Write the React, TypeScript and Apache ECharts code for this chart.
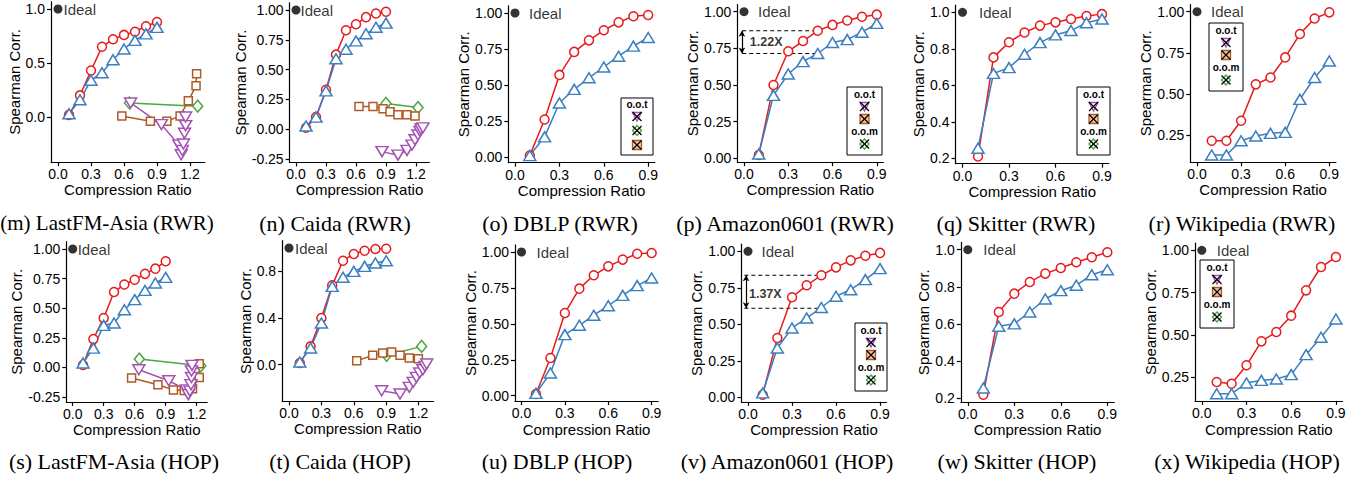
import React, { useEffect, useRef } from "react";
import * as echarts from "echarts";

const RED = "#e8191c";
const BLUE = "#3a7fc0";
const GREEN = "#4aa644";
const BROWN = "#b05a25";
const PURPLE = "#a552b5";

const SANS = "'Liberation Sans', Arial, Helvetica, sans-serif";
const SERIF = "'Liberation Serif', 'Times New Roman', Times, serif";

type Pt = [number, number];

const ratios = [0.1, 0.2, 0.3, 0.4, 0.5, 0.6, 0.7, 0.8, 0.9];

// (m) LastFM-Asia (RWR)
const mRed = [0.02, 0.2, 0.43, 0.65, 0.72, 0.76, 0.79, 0.84, 0.88];
const mBlue = [0.03, 0.16, 0.34, 0.41, 0.53, 0.63, 0.71, 0.77, 0.83];
const mGreen: Pt[] = [[0.65, 0.13], [1.27, 0.1]];
const mBrown: Pt[] = [[0.58, 0.01], [0.84, -0.04], [0.99, -0.04], [1.11, 0.01], [1.185, 0.15], [1.255, 0.29], [1.26, 0.4]];
const mPurple: Pt[] = [[0.66, 0.13], [0.94, -0.07], [1.1, -0.26], [1.12, -0.35], [1.13, -0.31], [1.14, -0.25], [1.15, -0.15], [1.16, -0.08], [1.16, 0.0]];

// (n) Caida (RWR)
const nRed = [0.01, 0.1, 0.33, 0.625, 0.83, 0.88, 0.94, 0.97, 0.985];
const nBlue = [0.025, 0.1, 0.32, 0.59, 0.67, 0.74, 0.8, 0.855, 0.89];
const nGreen: Pt[] = [[0.9, 0.215], [1.22, 0.18]];
const nBrown: Pt[] = [[0.63, 0.19], [0.77, 0.19], [0.87, 0.17], [0.94, 0.145], [1.02, 0.12], [1.11, 0.12], [1.19, 0.11]];
const nPurple: Pt[] = [[0.86, -0.19], [1.02, -0.22], [1.11, -0.18], [1.16, -0.135], [1.19, -0.09], [1.22, -0.05], [1.24, -0.02], [1.25, 0.0], [1.27, 0.01]];

// (o) DBLP (RWR)
const oRed = [0.01, 0.26, 0.57, 0.73, 0.81, 0.88, 0.935, 0.977, 0.986];
const oBlue = [0.01, 0.14, 0.375, 0.47, 0.55, 0.625, 0.7, 0.77, 0.83];

// (p) Amazon0601 (RWR)
const pRed = [0.023, 0.5, 0.73, 0.8, 0.87, 0.91, 0.94, 0.966, 0.98];
const pBlue = [0.03, 0.43, 0.575, 0.66, 0.715, 0.79, 0.81, 0.86, 0.92];

// (q) Skitter (RWR)
const qRed = [0.21, 0.753, 0.836, 0.889, 0.927, 0.945, 0.963, 0.98, 0.99];
const qBlue = [0.255, 0.665, 0.697, 0.77, 0.834, 0.876, 0.9, 0.943, 0.963];

// (r) Wikipedia (RWR)
const rRed = [0.215, 0.215, 0.337, 0.558, 0.6, 0.722, 0.864, 0.959, 0.996];
const rBlue = [0.128, 0.128, 0.215, 0.244, 0.26, 0.266, 0.467, 0.6, 0.7];

// (s) LastFM-Asia (HOP)
const sRed = [0.02, 0.24, 0.417, 0.637, 0.7, 0.74, 0.79, 0.834, 0.896];
const sBlue = [0.037, 0.163, 0.355, 0.375, 0.487, 0.572, 0.65, 0.713, 0.76];
const sGreen: Pt[] = [[0.645, 0.07], [1.24, 0.014]];
const sBrown: Pt[] = [[0.57, -0.09], [0.825, -0.146], [0.975, -0.19], [1.08, -0.195], [1.16, -0.18], [1.225, -0.085], [1.225, 0.03]];
const sPurple: Pt[] = [[0.64, -0.02], [0.93, -0.113], [1.1, -0.19], [1.12, -0.23], [1.135, -0.2], [1.145, -0.146], [1.15, -0.085], [1.15, -0.03], [1.155, 0.017]];

// (t) Caida (HOP)
const tRed = [0.014, 0.157, 0.4, 0.68, 0.891, 0.949, 0.977, 0.991, 0.994];
const tBlue = [0.023, 0.143, 0.357, 0.671, 0.749, 0.8, 0.843, 0.871, 0.891];
const tGreen: Pt[] = [[0.904, 0.08], [1.228, 0.157]];
const tBrown: Pt[] = [[0.627, 0.034], [0.775, 0.08], [0.867, 0.1], [0.95, 0.109], [1.028, 0.08], [1.114, 0.057], [1.198, 0.051]];
const tPurple: Pt[] = [[0.858, -0.223], [1.028, -0.251], [1.114, -0.194], [1.15, -0.151], [1.18, -0.109], [1.21, -0.071], [1.24, -0.043], [1.26, -0.014], [1.275, 0.006]];

// (u) DBLP (HOP)
const uRed = [0.012, 0.262, 0.575, 0.745, 0.838, 0.9, 0.947, 0.988, 0.993];
const uBlue = [0.016, 0.158, 0.425, 0.49, 0.56, 0.626, 0.698, 0.766, 0.819];

// (v) Amazon0601 (HOP)
const vRed = [0.018, 0.406, 0.685, 0.767, 0.836, 0.89, 0.938, 0.97, 0.989];
const vBlue = [0.03, 0.338, 0.475, 0.543, 0.615, 0.692, 0.737, 0.806, 0.881];

// (w) Skitter (HOP)
const wRed = [0.218, 0.664, 0.763, 0.826, 0.871, 0.901, 0.932, 0.959, 0.986];
const wBlue = [0.254, 0.587, 0.6, 0.664, 0.734, 0.779, 0.808, 0.865, 0.892];

// (x) Wikipedia (HOP)
const xRed = [0.22, 0.21, 0.319, 0.461, 0.516, 0.613, 0.763, 0.901, 0.96];
const xBlue = [0.151, 0.151, 0.214, 0.23, 0.238, 0.264, 0.382, 0.485, 0.593];

// tick labels
const xTicksWide = [0, 0.3, 0.6, 0.9, 1.2];
const xTicksNarrow = [0, 0.3, 0.6, 0.9];
const yTicksHalf = [0, 0.5, 1.0];
const yTicksQuarterNeg = [-0.25, 0, 0.25, 0.5, 0.75, 1.0];
const yTicksQuarter = [0, 0.25, 0.5, 0.75, 1.0];
const yTicksQuarterHigh = [0.25, 0.5, 0.75, 1.0];
const yTicksFifth = [0.2, 0.4, 0.6, 0.8, 1.0];
const yTicksCaida = [0, 0.4, 0.8];

interface Ann { top: number; bottom: number; xs: number; xe: number; ax: number; label: string; lx: number; ly: number; }
interface Panel {
  caption: string; capX: number; capY: number; capSize?: number;
  red: number[]; blue: number[]; green?: Pt[]; brown?: Pt[]; purple?: Pt[];
  x0: number; kx: number; py1: number; ky: number;
  xTicks: number[]; yTicks: number[]; yDec: number;
  idealGap: number; yNameGap: number; nameY: number;
  legend?: { x: number; y: number; w: number; kind: "A" | "B" };
  ann?: Ann;
}

const panels: Panel[] = [
  { caption: "(m) LastFM-Asia (RWR)", capX: 107, capY: 223, capSize: 21, red: mRed, blue: mBlue, green: mGreen, brown: mBrown, purple: mPurple,
    x0: 58, kx: 110, py1: 9, ky: 108, xTicks: xTicksWide, yTicks: yTicksHalf, yDec: 1, idealGap: 1, yNameGap: 28.5, nameY: 189 },
  { caption: "(n) Caida (RWR)", capX: 335, capY: 223, red: nRed, blue: nBlue, green: nGreen, brown: nBrown, purple: nPurple,
    x0: 296, kx: 100, py1: 10, ky: 119, xTicks: xTicksWide, yTicks: yTicksQuarterNeg, yDec: 2, idealGap: 0, yNameGap: 40, nameY: 189 },
  { caption: "(o) DBLP (RWR)", capX: 560, capY: 223, red: oRed, blue: oBlue,
    x0: 515, kx: 148, py1: 13, ky: 144, xTicks: xTicksNarrow, yTicks: yTicksQuarter, yDec: 2, idealGap: 9.5, yNameGap: 32.5, nameY: 189,
    legend: { x: 621, y: 98, w: 32, kind: "A" } },
  { caption: "(p) Amazon0601 (RWR)", capX: 785, capY: 223, red: pRed, blue: pBlue,
    x0: 744, kx: 147.5, py1: 11.7, ky: 146.7, xTicks: xTicksNarrow, yTicks: yTicksQuarter, yDec: 2, idealGap: 9.5, yNameGap: 36.5, nameY: 189,
    legend: { x: 847, y: 87, w: 35, kind: "B" },
    ann: { top: 0.87, bottom: 0.715, xs: -0.012, xe: 0.5, ax: -0.014, label: "1.22X", lx: 0.15, ly: 0.792 } },
  { caption: "(q) Skitter (RWR)", capX: 1016, capY: 223, red: qRed, blue: qBlue,
    x0: 962.5, kx: 155, py1: 12.3, ky: 182.5, xTicks: xTicksNarrow, yTicks: yTicksFifth, yDec: 1, idealGap: 12, yNameGap: 27.5, nameY: 189,
    legend: { x: 1077, y: 87, w: 33, kind: "B" } },
  { caption: "(r) Wikipedia (RWR)", capX: 1242, capY: 223, red: rRed, blue: rBlue,
    x0: 1197, kx: 147, py1: 11.7, ky: 164.4, xTicks: xTicksNarrow, yTicks: yTicksQuarterHigh, yDec: 2, idealGap: 9.5, yNameGap: 34.5, nameY: 189,
    legend: { x: 1209, y: 23, w: 34, kind: "B" } },
  { caption: "(s) LastFM-Asia (HOP)", capX: 114, capY: 461, red: sRed, blue: sBlue, green: sGreen, brown: sBrown, purple: sPurple,
    x0: 72.7, kx: 103.3, py1: 249, ky: 118.4, xTicks: xTicksWide, yTicks: yTicksQuarterNeg, yDec: 2, idealGap: 0.5, yNameGap: 38.5, nameY: 429 },
  { caption: "(t) Caida (HOP)", capX: 340, capY: 461, red: tRed, blue: tBlue, green: tGreen, brown: tBrown, purple: tPurple,
    x0: 289, kx: 108, py1: 248, ky: 116.7, xTicks: xTicksWide, yTicks: yTicksCaida, yDec: 1, idealGap: 1.5, yNameGap: 28, nameY: 429 },
  { caption: "(u) DBLP (HOP)", capX: 557, capY: 461, red: uRed, blue: uBlue,
    x0: 521.5, kx: 144.6, py1: 252, ky: 143.7, xTicks: xTicksNarrow, yTicks: yTicksQuarter, yDec: 2, idealGap: 10.5, yNameGap: 34, nameY: 430 },
  { caption: "(v) Amazon0601 (HOP)", capX: 787, capY: 461, red: vRed, blue: vBlue,
    x0: 748, kx: 146.7, py1: 251.3, ky: 146, xTicks: xTicksNarrow, yTicks: yTicksQuarter, yDec: 2, idealGap: 9, yNameGap: 34.5, nameY: 430,
    legend: { x: 855, y: 323, w: 32, kind: "B" },
    ann: { top: 0.836, bottom: 0.61, xs: -0.025, xe: 0.5, ax: -0.013, label: "1.37X", lx: 0.118, ly: 0.71 } },
  { caption: "(w) Skitter (HOP)", capX: 1017, capY: 461, red: wRed, blue: wBlue,
    x0: 967.8, kx: 155, py1: 249.7, ky: 185.4, xTicks: xTicksNarrow, yTicks: yTicksFifth, yDec: 1, idealGap: 11, yNameGap: 28.3, nameY: 429 },
  { caption: "(x) Wikipedia (HOP)", capX: 1247, capY: 461, red: xRed, blue: xBlue,
    x0: 1201.8, kx: 149, py1: 250.3, ky: 168.9, xTicks: xTicksNarrow, yTicks: yTicksQuarterHigh, yDec: 2, idealGap: 10.5, yNameGap: 32.5, nameY: 430,
    legend: { x: 1200, y: 260, w: 34, kind: "B" } },
];

function legendEls(x: number, y: number, w: number, kind: "A" | "B"): any[] {
  const h = kind === "A" ? 57 : 68;
  const cx = x + w / 2;
  const els: any[] = [
    { type: "rect", z: 100, shape: { x, y, width: w, height: h }, style: { fill: "#fff", stroke: "#000", lineWidth: 1 } },
  ];
  const title = (t: string, yy: number) => ({
    type: "text", z: 101, x: cx, y: yy,
    style: { text: t, fill: "#000", fontSize: 10, fontWeight: "bold", fontFamily: SANS, align: "center", verticalAlign: "middle" },
  });
  const cross = (cy: number) => [
    { type: "line", z: 102, shape: { x1: cx - 4.5, y1: cy - 4.5, x2: cx + 4.5, y2: cy + 4.5 }, style: { stroke: "#000", lineWidth: 1.3 } },
    { type: "line", z: 102, shape: { x1: cx + 4.5, y1: cy - 4.5, x2: cx - 4.5, y2: cy + 4.5 }, style: { stroke: "#000", lineWidth: 1.3 } },
  ];
  const purple = (cy: number) => [
    { type: "polygon", z: 101, shape: { points: [[cx - 4.5, cy - 4], [cx + 4.5, cy - 4], [cx, cy + 4.5]] }, style: { fill: "none", stroke: PURPLE, lineWidth: 1.4 } },
    ...cross(cy),
  ];
  const green = (cy: number) => [
    { type: "polygon", z: 101, shape: { points: [[cx, cy - 5], [cx + 4.5, cy], [cx, cy + 5], [cx - 4.5, cy]] }, style: { fill: "none", stroke: GREEN, lineWidth: 1.4 } },
    ...cross(cy),
  ];
  const brown = (cy: number) => [
    { type: "rect", z: 101, shape: { x: cx - 4.5, y: cy - 4.5, width: 9, height: 9 }, style: { fill: "#f0c8a8", stroke: BROWN, lineWidth: 1.3 } },
    ...cross(cy),
  ];
  if (kind === "A") {
    els.push(title("o.o.t", y + 6.5), ...purple(y + 18.5), ...green(y + 32.5), ...brown(y + 47));
  } else {
    els.push(title("o.o.t", y + 7), ...purple(y + 19.5), ...brown(y + 32), title("o.o.m", y + 44.5), ...green(y + 57));
  }
  return els;
}

function buildOption() {
  const grids: any[] = [];
  const xAxes: any[] = [];
  const yAxes: any[] = [];
  const series: any[] = [];
  const graphics: any[] = [];

  panels.forEach((p, i) => {
    const xs: number[] = [0, ...ratios];
    const ys: number[] = [1, ...p.red, ...p.blue];
    [p.green, p.brown, p.purple].forEach((arr) => {
      if (arr) arr.forEach(([a, b]) => { xs.push(a); ys.push(b); });
    });
    const xmin = Math.min(...xs), xmax = Math.max(...xs);
    const ymin = Math.min(...ys), ymax = Math.max(...ys);
    const xp = 0.05 * (xmax - xmin), yp = 0.05 * (ymax - ymin);
    const xlo = xmin - xp, xhi = xmax + xp, ylo = ymin - yp, yhi = ymax + yp;

    const left = p.x0 + xlo * p.kx;
    const width = (xhi - xlo) * p.kx;
    const top = p.py1 - (yhi - 1) * p.ky;
    const height = (yhi - ylo) * p.ky;
    grids.push({ left, top, width, height, containLabel: false });

    const axisCommon = {
      axisLine: { show: true, onZero: false, lineStyle: { color: "#000", width: 1.2 } },
      splitLine: { show: false },
    };
    xAxes.push({
      ...axisCommon, type: "value", gridIndex: i, min: xlo, max: xhi,
      axisTick: { show: true, inside: false, length: 4, customValues: p.xTicks, lineStyle: { color: "#000", width: 1.2 } },
      axisLabel: { customValues: p.xTicks, formatter: (v: number) => v.toFixed(1), margin: 5, fontSize: 14, color: "#000", fontFamily: SANS },
      name: "Compression Ratio", nameLocation: "middle", nameGap: p.nameY - (top + height) - 8,
      nameTextStyle: { fontSize: 15, color: "#000", fontFamily: SANS },
    });
    yAxes.push({
      ...axisCommon, type: "value", gridIndex: i, min: ylo, max: yhi,
      axisTick: { show: true, inside: false, length: 4, customValues: p.yTicks, lineStyle: { color: "#000", width: 1.2 } },
      axisLabel: { customValues: p.yTicks, formatter: (v: number) => v.toFixed(p.yDec), margin: 6, fontSize: 14, color: "#000", fontFamily: SANS },
      name: "Spearman Corr.", nameLocation: "middle", nameGap: p.yNameGap,
      nameTextStyle: { fontSize: 15, color: "#000", fontFamily: SANS },
    });

    const base = { xAxisIndex: i, yAxisIndex: i, silent: true, showSymbol: true, showAllSymbol: true, z: 3 };
    const mk = (data: Pt[], color: string, symbol: string, size: any, rotate = 0) => ({
      ...base, type: "line", data, symbol, symbolSize: size, symbolRotate: rotate,
      lineStyle: { color, width: 1.5 },
      itemStyle: { color: "#fff", borderColor: color, borderWidth: 1.5 },
    });
    if (p.green) series.push(mk(p.green, GREEN, "diamond", [10, 12]));
    if (p.brown) series.push(mk(p.brown, BROWN, "rect", 8));
    if (p.purple) series.push(mk(p.purple, PURPLE, "triangle", [12, 10], 180));
    series.push(mk(ratios.map((r, j) => [r, p.red[j]] as Pt), RED, "circle", 9));
    series.push(mk(ratios.map((r, j) => [r, p.blue[j]] as Pt), BLUE, "triangle", [12, 10]));

    series.push({
      ...base, type: "scatter", data: [[0, 1]], symbol: "circle", symbolSize: 9,
      itemStyle: { color: "#000" },
      label: { show: true, position: "right", distance: p.idealGap, formatter: "Ideal", fontSize: 15, color: "#000", fontFamily: SANS },
    });

    if (p.ann) {
      const a = p.ann;
      const dash = { color: "#000", width: 1.2, type: [4, 3] };
      series.push({ ...base, type: "line", data: [[a.xs, a.top], [a.xe, a.top]], symbol: "none", lineStyle: dash, z: 2 });
      series.push({
        ...base, type: "line", data: [[a.xs, a.bottom], [a.xe, a.bottom]], symbol: "none", lineStyle: dash, z: 2,
        markLine: {
          silent: true, symbol: ["arrow", "arrow"], symbolSize: [5, 6], label: { show: false },
          lineStyle: { color: "#000", width: 1.2, type: "solid" },
          data: [[{ coord: [a.ax, a.top] }, { coord: [a.ax, a.bottom] }]],
        },
      });
      series.push({
        ...base, type: "scatter", data: [[a.lx, a.ly]], symbolSize: 0,
        label: { show: true, position: "inside", formatter: a.label, fontSize: 12.5, fontWeight: "bold", color: "#000", fontFamily: SANS },
      });
    }

    graphics.push({
      type: "text", x: p.capX, y: p.capY,
      style: { text: p.caption, fill: "#000", fontSize: p.capSize || 22, fontFamily: SERIF, align: "center", verticalAlign: "middle" },
    });
    if (p.legend) graphics.push(...legendEls(p.legend.x, p.legend.y, p.legend.w, p.legend.kind));
  });

  return {
    animation: false,
    backgroundColor: "#fff",
    grid: grids,
    xAxis: xAxes,
    yAxis: yAxes,
    series,
    graphic: graphics,
  };
}

export default function App() {
  const ref = useRef<HTMLDivElement>(null);
  useEffect(() => {
    const chart = echarts.init(ref.current as HTMLDivElement, null, { renderer: "svg" });
    chart.setOption(buildOption() as any);
    return () => chart.dispose();
  }, []);
  return (
    <div
      ref={ref}
      style={{ position: "fixed", left: 0, top: 0, width: 1357, height: 477, background: "#fff" }}
    />
  );
}
